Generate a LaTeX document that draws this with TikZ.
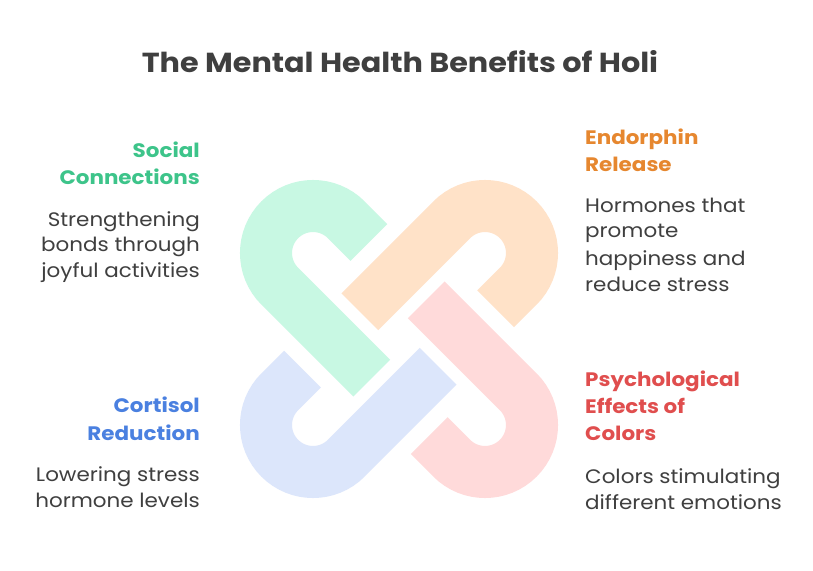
\documentclass[tikz,border=0pt]{standalone}
\usepackage{fontspec}
\setmainfont[FakeStretch=1.1]{Poppins}
\definecolor{gfill}{HTML}{C8F8E3}
\definecolor{ofill}{HTML}{FFE2C8}
\definecolor{rfill}{HTML}{FFDADA}
\definecolor{bfill}{HTML}{DCE6FB}
\definecolor{gtext}{HTML}{3DC48A}
\definecolor{otext}{HTML}{E6872F}
\definecolor{btext}{HTML}{4A80E0}
\definecolor{rtext}{HTML}{E04E4E}
\definecolor{dtext}{HTML}{3F3F3F}
\tikzset{
  link/.style={line width=52pt, line cap=butt},
  head/.style={font=\fontsize{19.5}{22}\selectfont\bfseries, inner sep=0pt},
  body/.style={font=\fontsize{19.5}{22}\selectfont, text=dtext, inner sep=0pt},
}
\begin{document}
\begin{tikzpicture}[x=1pt,y=1pt]
\useasboundingbox (0,0) rectangle (813,570);
\fill[white] (0,0) rectangle (813,570);
\foreach \ang/\col in {0/gfill,-90/ofill,-180/rfill,-270/bfill}{
  \draw[link,\col,rotate around={\ang:(399,231)}]
    (313,317) ++(45:47pt) ++(-45:32pt) -- ++(135:32pt)
    arc[start angle=45,end angle=225,radius=47pt] -- ++(-45:130pt);
}
\node[font=\fontsize{27.5}{34}\selectfont\bfseries, text=dtext, inner sep=0pt, anchor=base] (title) at (400,497) {The Mental Health Benefits of Holi};
% left top
\node[head,text=gtext,anchor=base east] (sc1) at (200,412) {Social};
\node[head,text=gtext,anchor=base east] (sc2) at (200,385) {Connections};
\node[body,anchor=base east] (sb1) at (200,343.3) {Strengthening};
\node[body,anchor=base east] (sb2) at (200,318.3) {bonds through};
\node[body,anchor=base east] (sb3) at (200,292.3) {joyful activities};
% right top
\node[head,text=otext,anchor=base west] (er1) at (585,425) {Endorphin};
\node[head,text=otext,anchor=base west] (er2) at (585,398.3) {Release};
\node[body,anchor=base west] (eb1) at (585,357.3) {Hormones that};
\node[body,anchor=base west] (eb2) at (585,332) {promote};
\node[body,anchor=base west] (eb3) at (585,304.3) {happiness and};
\node[body,anchor=base west] (eb4) at (585,278) {reduce stress};
% left bottom
\node[head,text=btext,anchor=base east] (cr1) at (200,157) {Cortisol};
\node[head,text=btext,anchor=base east] (cr2) at (200,129) {Reduction};
\node[body,anchor=base east] (cb1) at (200,88.3) {Lowering stress};
\node[body,anchor=base east] (cb2) at (200,62.3) {hormone levels};
% right bottom
\node[head,text=rtext,anchor=base west] (pe1) at (585,183.3) {Psychological};
\node[head,text=rtext,anchor=base west] (pe2) at (585,156) {Effects of};
\node[head,text=rtext,anchor=base west] (pe3) at (585,129) {Colors};
\node[body,anchor=base west] (pb1) at (585,86) {Colors stimulating};
\node[body,anchor=base west] (pb2) at (585,61) {different emotions};
\end{tikzpicture}
\end{document}
